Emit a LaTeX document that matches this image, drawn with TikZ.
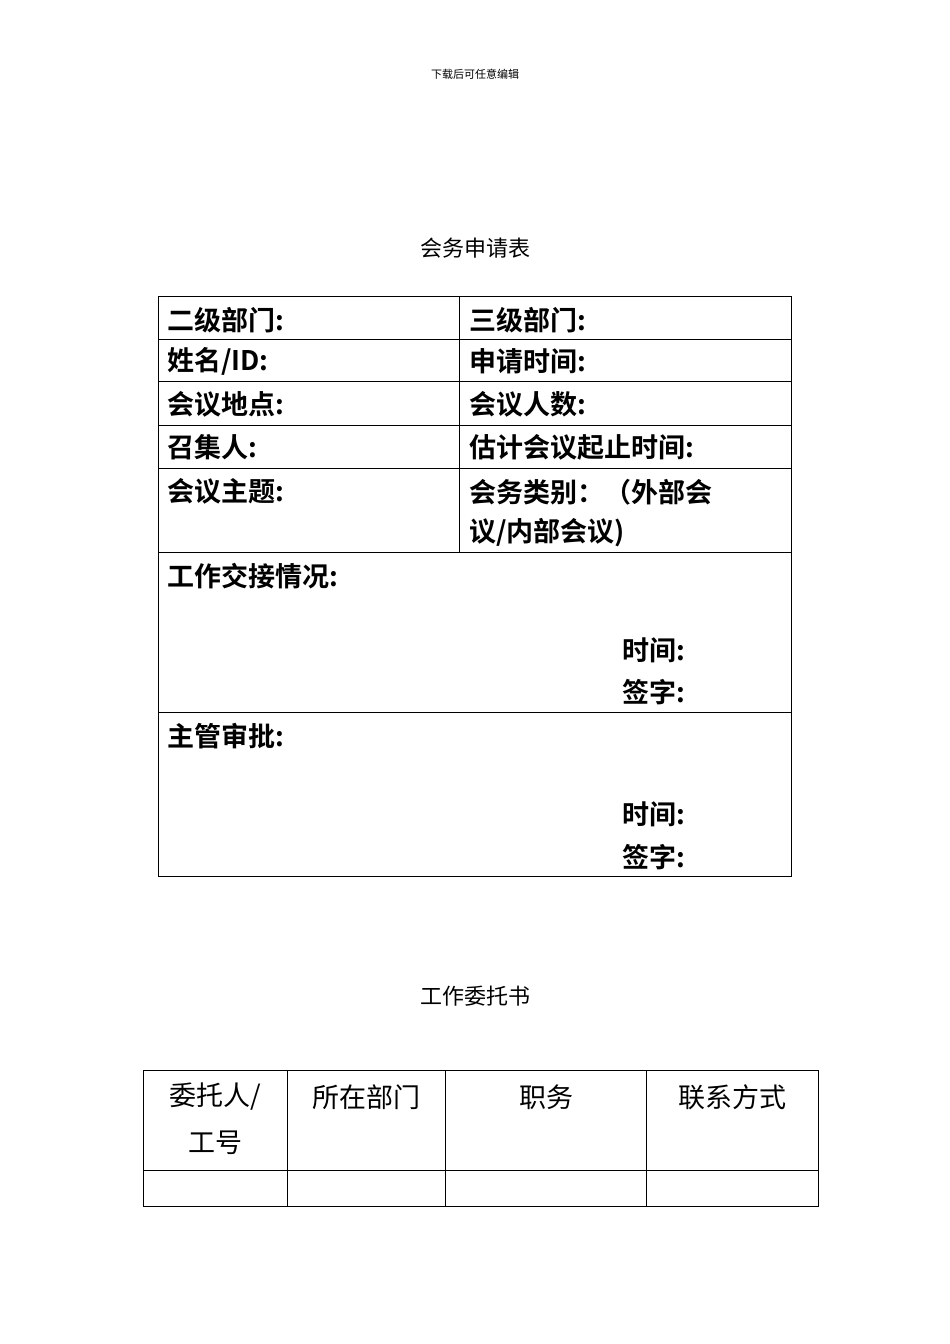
\documentclass[tikz,border=0pt]{standalone}
\usepackage{fontspec}
\newfontfamily\cjk{Noto Sans CJK SC}
\newfontfamily\cjkb{Noto Sans CJK SC Bold}
\begin{document}
\begin{tikzpicture}[x=1pt,y=-1pt,
  lb/.style={anchor=west,inner sep=0,font=\cjkb\fontsize{27}{30}\selectfont},
  rg/.style={inner sep=0,font=\cjk\fontsize{27}{30}\selectfont},
  ln/.style={line width=0.8pt}]
\useasboundingbox (0,0) rectangle (950,1344);
\node[inner sep=0,font=\cjk\fontsize{11}{12}\selectfont] (hd) at (475,74) {下载后可任意编辑};
\node[inner sep=0,font=\cjk\fontsize{22}{24}\selectfont] (t1) at (475,248) {会务申请表};
% table 1
\draw[ln] (158,296) rectangle (791,876);
\foreach \y in {339,381,425,468,552,712} \draw[ln] (158,\y) -- (791,\y);
\draw[ln] (459,296) -- (459,552);
\node[lb] (a1) at (167,320) {二级部门:};
\node[lb] (b1) at (469,320) {三级部门:};
\node[lb] (a2) at (167,361) {姓名/ID:};
\node[lb] (b2) at (469,361) {申请时间:};
\node[lb] (a3) at (167,404) {会议地点:};
\node[lb] (b3) at (469,404) {会议人数:};
\node[lb] (a4) at (167,447) {召集人:};
\node[lb] (b4) at (469,447) {估计会议起止时间:};
\node[lb] (a5) at (167,491) {会议主题:};
\node[lb] (b5) at (469,492) {会务类别：（外部会};
\node[lb] (b5b) at (469,533) {议/内部会议)};
\node[lb] (a6) at (167,576) {工作交接情况:};
\node[lb] (a6t) at (622,650) {时间:};
\node[lb] (a6s) at (622,692) {签字:};
\node[lb] (a7) at (167,736) {主管审批:};
\node[lb] (a7t) at (622,814) {时间:};
\node[lb] (a7s) at (622,857) {签字:};
% title 2
\node[inner sep=0,font=\cjk\fontsize{22}{24}\selectfont] (t2) at (475,996) {工作委托书};
% table 2
\draw[ln] (143,1070) rectangle (818,1206);
\draw[ln] (143,1170) -- (818,1170);
\foreach \x in {287,445,646} \draw[ln] (\x,1070) -- (\x,1206);
\node[rg] (c1) at (215,1097) {委托人/};
\node[rg] (c1b) at (215,1143) {工号};
\node[rg] (c2) at (366,1097) {所在部门};
\node[rg] (c3) at (546,1097) {职务};
\node[rg] (c4) at (732,1097) {联系方式};
\end{tikzpicture}
\end{document}
